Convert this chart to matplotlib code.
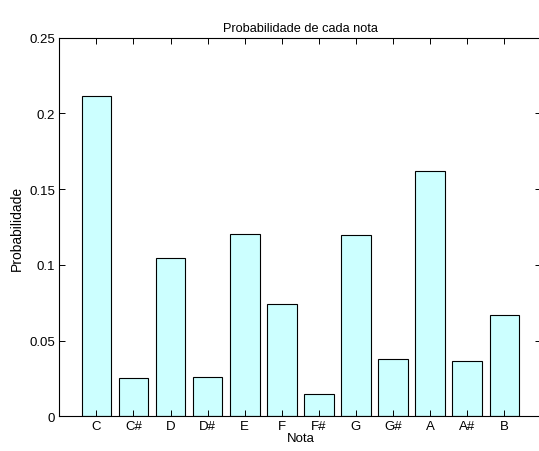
import numpy as np
import matplotlib.pyplot as plt

plt.rcParams['font.family'] = ['Liberation Sans', 'DejaVu Sans']
plt.rcParams['font.size'] = 9.5

notas = ['C', 'C#', 'D', 'D#', 'E', 'F', 'F#', 'G', 'G#', 'A', 'A#', 'B']
probabilidade = [0.2112, 0.0250, 0.1043, 0.0257, 0.1201, 0.0740,
                 0.0147, 0.1199, 0.0377, 0.1621, 0.0366, 0.0667]
y_ticks = [0, 0.05, 0.1, 0.15, 0.2, 0.25]
y_tick_labels = ['0', '0.05', '0.1', '0.15', '0.2', '0.25']

fig = plt.figure(figsize=(5.39, 4.52), dpi=100)
ax = fig.add_axes([0.110, 0.0768, 0.8945, 0.8376])

x = np.arange(1, len(notas) + 1)
ax.bar(x, probabilidade, width=0.8, color='#ccffff', edgecolor='black', linewidth=0.8)

ax.set_xlim(0, 13)
ax.set_ylim(0, 0.25)
ax.set_xticks(x)
ax.set_xticklabels(notas)
ax.set_yticks(y_ticks)
ax.set_yticklabels(y_tick_labels)

ax.tick_params(direction='in', length=4, width=0.7, top=True, right=True, pad=3,
               labelsize=9.5)
for s in ax.spines.values():
    s.set_linewidth(0.8)

ax.set_title('Probabilidade de cada nota', pad=5, fontsize=9.2)
ax.set_xlabel('Nota', labelpad=0, fontsize=9.5)
ax.set_ylabel('Probabilidade', labelpad=4, fontsize=10)

fig.savefig('out.png', dpi=100)
